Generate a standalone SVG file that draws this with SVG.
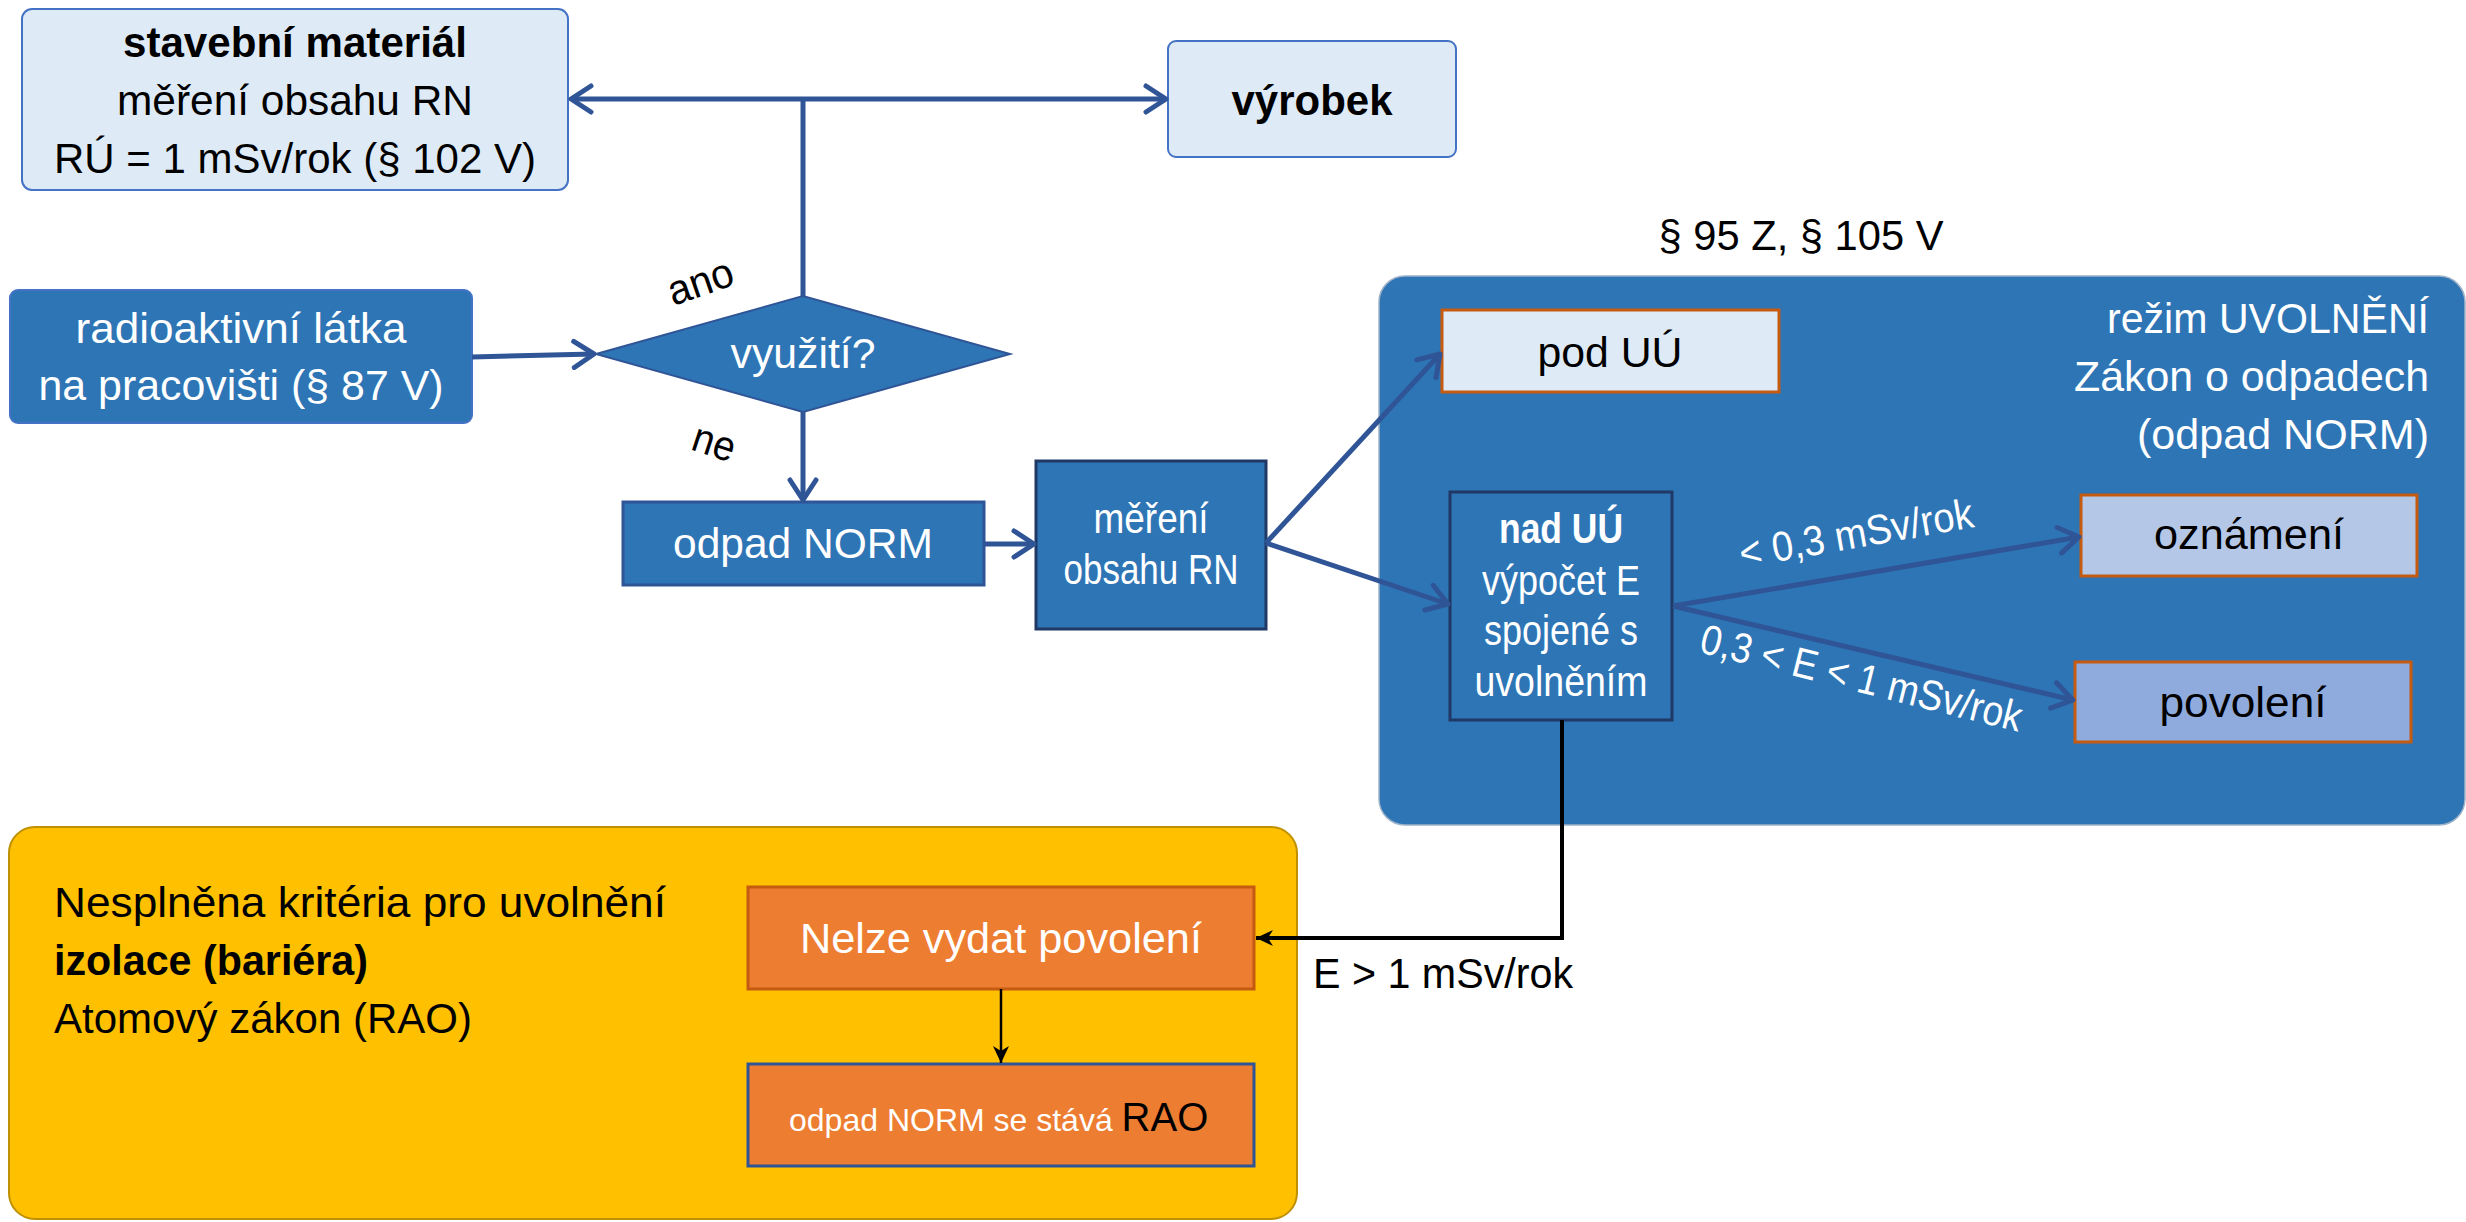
<svg xmlns="http://www.w3.org/2000/svg" width="2466" height="1222" viewBox="0 0 2466 1222">
<style>
text{font-family:"Liberation Sans",Arial,sans-serif;font-size:42px}
.c{text-anchor:middle}
.e{text-anchor:end}
.w{fill:#fff}
.k{fill:#000}
.b{font-weight:bold}
.lt{fill:#DEEBF7;stroke:#4472C4;stroke-width:2}
.bl{fill:#2E75B6}
.or{stroke:#C55A11;stroke-width:3}
.cn{fill:none;stroke:#2F5597;stroke-width:5}
.bk{fill:none;stroke:#000;stroke-width:4}
</style>
<defs>
<marker id="ah" viewBox="-26 -16 30 32" markerWidth="30" markerHeight="32" refX="0" refY="0" orient="auto" markerUnits="userSpaceOnUse">
<path d="M-20,-13 L0,0 L-20,13" fill="none" stroke="#2F5597" stroke-width="5" stroke-linecap="round" stroke-linejoin="round"/>
</marker>
<marker id="bh" viewBox="-20 -10 22 20" markerWidth="22" markerHeight="20" refX="0" refY="0" orient="auto" markerUnits="userSpaceOnUse">
<path d="M0,0 L-17,-8 L-12,0 L-17,8 Z" fill="#000"/>
</marker>
</defs>

<g id="rezim-uvolneni">
<rect x="1379" y="276" width="1086" height="549" rx="26" fill="#2E75B6" stroke="#9FB3C8" stroke-width="1.5"/>
<text class="w e" x="2429" y="333" textLength="322" lengthAdjust="spacingAndGlyphs">režim UVOLNĚNÍ</text>
<text class="w e" x="2429" y="391" textLength="355" lengthAdjust="spacingAndGlyphs">Zákon o odpadech</text>
<text class="w e" x="2429" y="449" textLength="292" lengthAdjust="spacingAndGlyphs">(odpad NORM)</text>
</g>
<text id="paragrafy" class="c k" x="1801" y="250" textLength="285" lengthAdjust="spacingAndGlyphs">§ 95 Z, § 105 V</text>

<g id="rao-oblast">
<rect x="9" y="827" width="1288" height="392" rx="26" fill="#FFC000" stroke="#BF9000" stroke-width="2"/>
<text class="k" x="54" y="917" font-size="43" textLength="612" lengthAdjust="spacingAndGlyphs">Nesplněna kritéria pro uvolnění</text>
<text class="k b" x="54" y="975" textLength="314" lengthAdjust="spacingAndGlyphs">izolace (bariéra)</text>
<text class="k" x="54" y="1033" textLength="418" lengthAdjust="spacingAndGlyphs">Atomový zákon (RAO)</text>
</g>

<g id="stavebni-material">
<rect class="lt" x="22" y="9" width="546" height="181" rx="10"/>
<text class="c k b" x="295" y="57" textLength="344" lengthAdjust="spacingAndGlyphs">stavební materiál</text>
<text class="c k" x="295" y="115" textLength="356" lengthAdjust="spacingAndGlyphs">měření obsahu RN</text>
<text class="c k" x="295" y="173" textLength="482" lengthAdjust="spacingAndGlyphs">RÚ = 1 mSv/rok (§ 102 V)</text>
</g>

<g id="vyrobek">
<rect class="lt" x="1168" y="41" width="288" height="116" rx="8"/>
<text class="c k b" x="1312" y="115" textLength="161" lengthAdjust="spacingAndGlyphs">výrobek</text>
</g>

<g id="radioaktivni-latka">
<rect class="bl" x="10" y="290" width="462" height="133" rx="8" stroke="#4472C4" stroke-width="2"/>
<text class="c w" x="241" y="343" font-size="43" textLength="331" lengthAdjust="spacingAndGlyphs">radioaktivní látka</text>
<text class="c w" x="241" y="400" font-size="43" textLength="405" lengthAdjust="spacingAndGlyphs">na pracovišti (§ 87 V)</text>
</g>

<g id="vyuziti">
<polygon points="596,354 803,296 1010,354 803,412" fill="#2E75B6" stroke="#2F5597" stroke-width="2"/>
<text class="c w" x="803" y="368" textLength="145" lengthAdjust="spacingAndGlyphs">využití?</text>
</g>

<g id="odpad-norm">
<rect class="bl" x="623" y="502" width="361" height="83" stroke="#2F5597" stroke-width="3"/>
<text class="c w" x="803" y="558" textLength="260" lengthAdjust="spacingAndGlyphs">odpad NORM</text>
</g>

<g id="mereni-obsahu">
<rect class="bl" x="1036" y="461" width="230" height="168" stroke="#1F3864" stroke-width="3"/>
<text class="c w" x="1151" y="533" font-size="35" textLength="115" lengthAdjust="spacingAndGlyphs">měření</text>
<text class="c w" x="1151" y="584" font-size="35" textLength="175" lengthAdjust="spacingAndGlyphs">obsahu RN</text>
</g>

<g id="pod-uu">
<rect class="or" x="1442" y="310" width="337" height="82" fill="#DEEBF7"/>
<text class="c k" x="1610" y="367" textLength="145" lengthAdjust="spacingAndGlyphs">pod UÚ</text>
</g>

<g id="nad-uu">
<rect class="bl" x="1450" y="492" width="222" height="228" stroke="#1F3864" stroke-width="3"/>
<text class="c w b" x="1561" y="543" font-size="36" textLength="124" lengthAdjust="spacingAndGlyphs">nad UÚ</text>
<text class="c w" x="1561" y="595" font-size="36" textLength="158" lengthAdjust="spacingAndGlyphs">výpočet E</text>
<text class="c w" x="1561" y="645" font-size="36" textLength="154" lengthAdjust="spacingAndGlyphs">spojené s</text>
<text class="c w" x="1561" y="696" font-size="36" textLength="173" lengthAdjust="spacingAndGlyphs">uvolněním</text>
</g>

<g id="oznameni">
<rect class="or" x="2081" y="495" width="336" height="81" fill="#B4C7E7"/>
<text class="c k" x="2249" y="549" textLength="190" lengthAdjust="spacingAndGlyphs">oznámení</text>
</g>

<g id="povoleni">
<rect class="or" x="2075" y="662" width="336" height="80" fill="#8FAADC"/>
<text class="c k" x="2243" y="717" textLength="167" lengthAdjust="spacingAndGlyphs">povolení</text>
</g>

<g id="nelze-vydat">
<rect class="or" x="748" y="887" width="506" height="102" fill="#ED7D31"/>
<text class="c w" x="1001" y="953" font-size="43" textLength="402" lengthAdjust="spacingAndGlyphs">Nelze vydat povolení</text>
</g>

<g id="rao">
<rect x="748" y="1064" width="506" height="102" fill="#ED7D31" stroke="#2F5597" stroke-width="3"/>
<text x="789" y="1131"><tspan class="w" font-size="32">odpad NORM se stává </tspan><tspan class="k" font-size="40">RAO</tspan></text>
</g>

<g id="connectors">
<path class="cn" d="M803,296 V99"/>
<path class="cn" d="M803,99 H571" marker-end="url(#ah)"/>
<path class="cn" d="M803,99 H1166" marker-end="url(#ah)"/>
<path class="cn" d="M472,357 L594,354" marker-end="url(#ah)"/>
<path class="cn" d="M803,412 V500" marker-end="url(#ah)"/>
<path class="cn" d="M984,544 L1034,544" marker-end="url(#ah)"/>
<path class="cn" d="M1266,543 L1440,354" marker-end="url(#ah)"/>
<path class="cn" d="M1266,543 L1448,604" marker-end="url(#ah)"/>
<path class="cn" d="M1673,606 L2079,537" marker-end="url(#ah)"/>
<path class="cn" d="M1673,606 L2073,700" marker-end="url(#ah)"/>
<path class="bk" d="M1562,720 V938 H1256" marker-end="url(#bh)"/>
<path fill="none" stroke="#000" stroke-width="2.5" d="M1001,989 V1063" marker-end="url(#bh)"/>
<text class="k" transform="translate(705,295) rotate(-19)" text-anchor="middle" font-size="40" textLength="67" lengthAdjust="spacingAndGlyphs">ano</text>
<text class="k" transform="translate(710,456) rotate(18)" text-anchor="middle" font-size="39" textLength="43" lengthAdjust="spacingAndGlyphs">ne</text>
<text class="w" transform="translate(1742,568) rotate(-10)" font-size="35" textLength="237" lengthAdjust="spacingAndGlyphs">&lt; 0,3 mSv/rok</text>
<text class="w" transform="translate(1698,652) rotate(14)" font-size="35" textLength="330" lengthAdjust="spacingAndGlyphs">0,3 &lt; E &lt; 1 mSv/rok</text>
<text class="k" x="1313" y="988" textLength="260" lengthAdjust="spacingAndGlyphs">E &gt; 1 mSv/rok</text>
</g>
</svg>
